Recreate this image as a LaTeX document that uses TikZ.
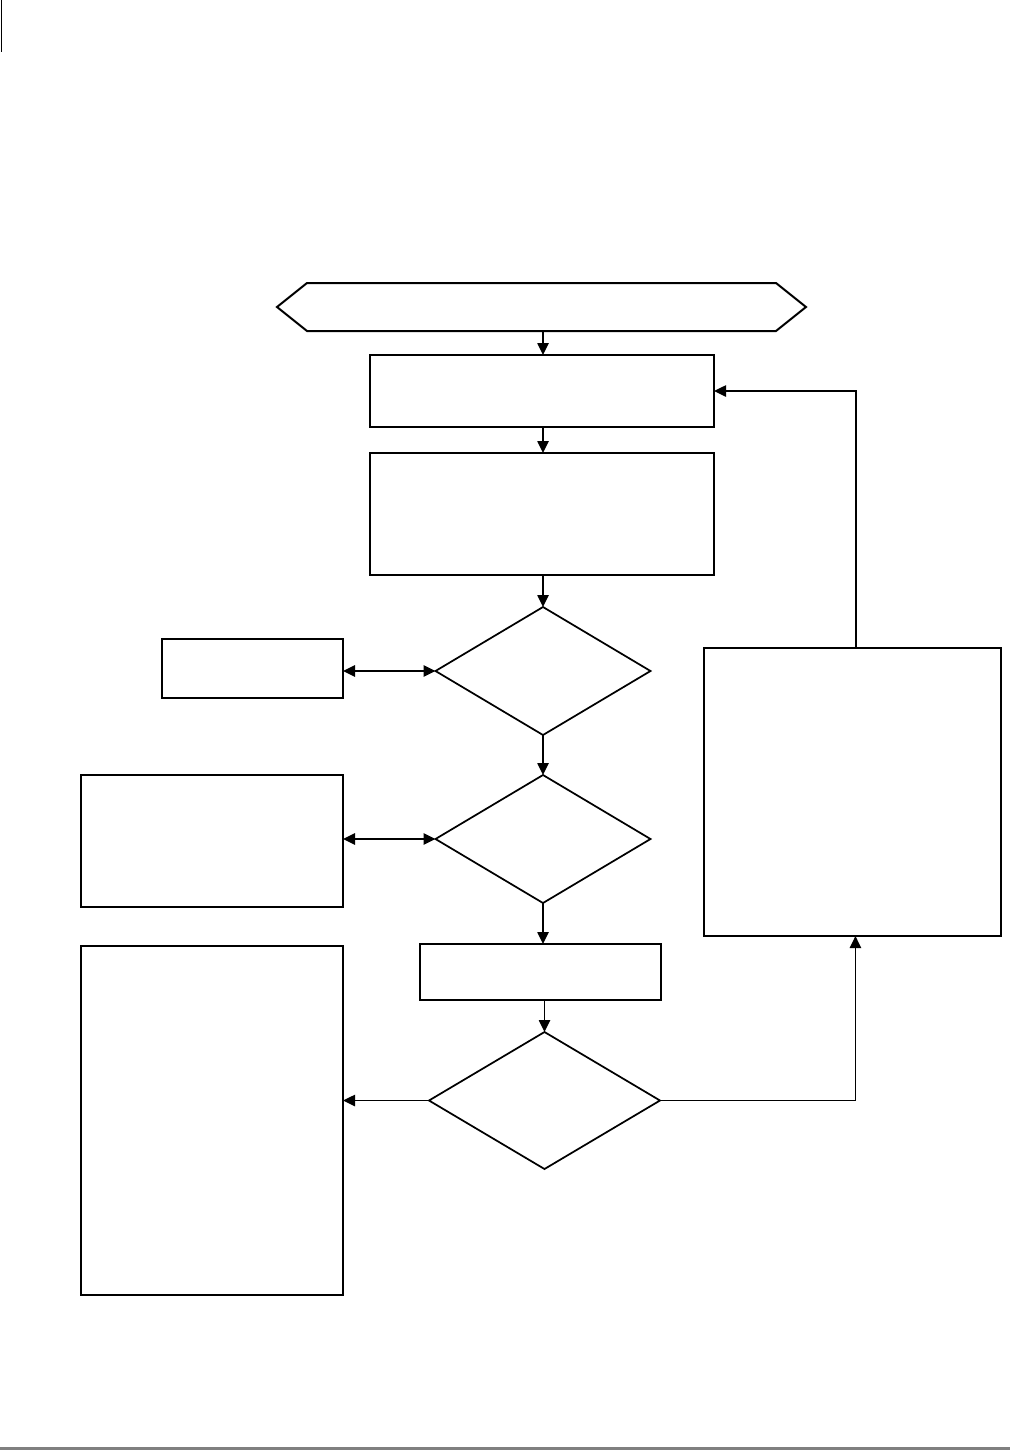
\documentclass[tikz,border=0pt]{standalone}
\usetikzlibrary{shapes.geometric,arrows.meta}
\begin{document}
\begin{tikzpicture}[x=0.75pt,y=-0.75pt,
  box/.style={draw,line width=1.5pt,rectangle,inner sep=0pt,outer sep=0pt},
  dia/.style={draw,line width=1.3pt,diamond,inner sep=0pt,outer sep=0pt},
  conn/.style={line width=1.1pt,-{Triangle[length=9pt,width=8.5pt]}},
  dbl/.style={line width=1.5pt,{Triangle[length=9pt,width=8.5pt]}-{Triangle[length=9pt,width=8.5pt]}}]
\useasboundingbox (0,0) rectangle (1010,1450);
% page marks
\draw[line width=1.1pt] (1.5,0) -- (1.5,52);
\draw[gray,line width=2pt] (0,1448.5) -- (1010,1448.5);
% start hexagon
\draw[line width=1.5pt] (277,307) -- (307,283) -- (776,283) -- (806,307) -- (776,331) -- (307,331) -- cycle;
\coordinate (hexb) at (543,331);
% nodes
\node[box,minimum width=258pt,minimum height=54pt] (b1) at (542,391) {};
\node[box,minimum width=258pt,minimum height=91.5pt] (b2) at (542,514) {};
\node[dia,minimum width=161.25pt,minimum height=96pt] (d1) at (543,671) {};
\node[box,minimum width=135.75pt,minimum height=44.25pt] (l1) at (252.5,668.5) {};
\node[dia,minimum width=161.25pt,minimum height=96pt] (d2) at (543,839) {};
\node[box,minimum width=196.5pt,minimum height=99pt] (l2) at (212,841) {};
\node[box,minimum width=180.75pt,minimum height=42pt] (b3) at (540.5,972) {};
\node[dia,minimum width=173.25pt,minimum height=102.75pt] (d3) at (544.5,1100.5) {};
\node[box,minimum width=196.5pt,minimum height=261.75pt] (l3) at (212,1120.5) {};
\node[box,minimum width=222.75pt,minimum height=216pt] (r) at (852.5,792) {};
\coordinate (rbot) at ([xshift=2.2pt]r.south);
\coordinate (rtop) at ([xshift=2.6pt]r.north);
% connectors
\draw[conn] (hexb) -- (hexb |- b1.north);
\draw[conn] (b1.south -| d1.north) -- (b2.north -| d1.north);
\draw[conn] (b2.south -| d1.north) -- (d1.north);
\draw[conn] (d1.south) -- (d2.north);
\draw[conn] (d2.south) -- (d2.south |- b3.north);
\draw[conn] (b3.south -| d3.north) -- (d3.north);
\draw[conn] (d3.west) -- (d3.west -| l3.east);
\draw[conn] (d3.east) -| (rbot);
\draw[conn] (rtop) |- (b1.east);
\draw[dbl] (d1.west -| l1.east) -- (d1.west);
\draw[dbl] (d2.west -| l2.east) -- (d2.west);
\end{tikzpicture}
\end{document}
